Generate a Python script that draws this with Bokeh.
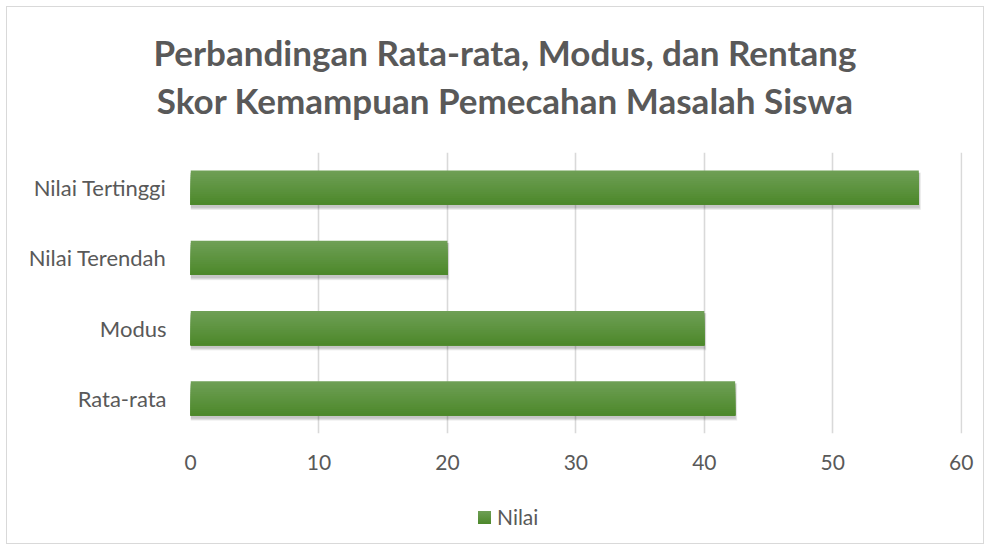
from bokeh.plotting import figure
from bokeh.models import (FactorRange, Range1d, FixedTicker, ColumnDataSource, Div)
from bokeh.layouts import column
from bokeh.transform import dodge
from bokeh.embed import file_html
from bokeh.resources import INLINE

# ---- data ----
categories = ["Rata-rata", "Modus", "Nilai Terendah", "Nilai Tertinggi"]
nilai = [42.4, 40, 20, 56.7]
x_ticks = [0, 10, 20, 30, 40, 50, 60]
title_lines = ["Perbandingan Rata-rata, Modus, dan Rentang",
               "Skor Kemampuan Pemecahan Masalah Siswa"]
series_name = "Nilai"

FONT = "Lato"
GRAY = "#595959"
TOP_GREEN = "#6e9f55"
BOT_GREEN = "#4d882b"

src = ColumnDataSource(dict(cat=categories, val=nilai))

title_div = Div(
    text=('<div style="position:relative; left:10px; text-align:center; '
          'font-family:Lato; font-weight:bold; font-size:35px; line-height:48px; '
          'color:#595959; padding-top:28px; width:990px; white-space:nowrap;">'
          + "<br>".join(title_lines) + "</div>"),
    width=990, height=145, margin=0)

p = figure(width=990, height=345, y_range=FactorRange(*categories),
           x_range=Range1d(0, 60.1), output_backend="svg", toolbar_location=None,
           min_border_left=190, min_border_right=28, min_border_top=7,
           min_border_bottom=57, margin=0)
p.title.text = ""
p.outline_line_color = None
p.background_fill_color = "white"
p.border_fill_color = None

# grid
p.ygrid.grid_line_color = None
p.xgrid.grid_line_color = "#d9d9d9"
p.xgrid.grid_line_width = 1.6
p.xaxis.ticker = FixedTicker(ticks=x_ticks)

for ax in (p.xaxis, p.yaxis):
    ax.axis_line_color = None
    ax.major_tick_line_color = None
    ax.minor_tick_line_color = None
    ax.major_tick_out = 0
    ax.major_tick_in = 0
    ax.major_label_text_font = FONT
    ax.major_label_text_color = GRAY
p.xaxis.major_label_text_font_size = "21px"
p.yaxis.major_label_text_font_size = "22px"
p.xaxis.major_label_standoff = 21
p.yaxis.major_label_standoff = 24

H = 0.485
# shadow layers
for k in range(1, 5):
    p.hbar(y=dodge("cat", -0.035 - 0.004 * k, range=p.y_range),
           right=dodge("val", 0.04 * k, range=p.x_range), left=0,
           height=H + 0.012 * k, source=src,
           fill_color="black", fill_alpha=0.06, line_color=None)

# gradient bar: overlapping slices, each reaching the bar bottom
N = 16
top = tuple(int(TOP_GREEN[i:i + 2], 16) for i in (1, 3, 5))
bot = tuple(int(BOT_GREEN[i:i + 2], 16) for i in (1, 3, 5))
s = H / N
for j in range(N):
    t = j / (N - 1)
    c = tuple(int(round(top[i] + (bot[i] - top[i]) * t)) for i in range(3))
    col = "#%02x%02x%02x" % c
    p.hbar(y=dodge("cat", -j * s / 2, range=p.y_range), right="val", left=0,
           height=H - j * s, source=src, fill_color=col, line_color=None)

legend_div = Div(
    text=('<div style="position:relative; width:990px; height:60px;">'
          '<span style="position:absolute; left:478px; top:21px; width:13px; height:13px; '
          f'background:linear-gradient({TOP_GREEN}, {BOT_GREEN});"></span>'
          '<span style="position:absolute; left:497px; top:14px; font-family:Lato; '
          f'font-size:21px; line-height:26px; color:{GRAY};">{series_name}</span></div>'),
    width=990, height=60, margin=0)

layout = column(title_div, p, legend_div, spacing=0,
                styles={"outline": "1.5px solid #d9d9d9", "outline-offset": "-7px",
                        "background": "white"})

open("out.html", "w").write(file_html(layout, INLINE))
